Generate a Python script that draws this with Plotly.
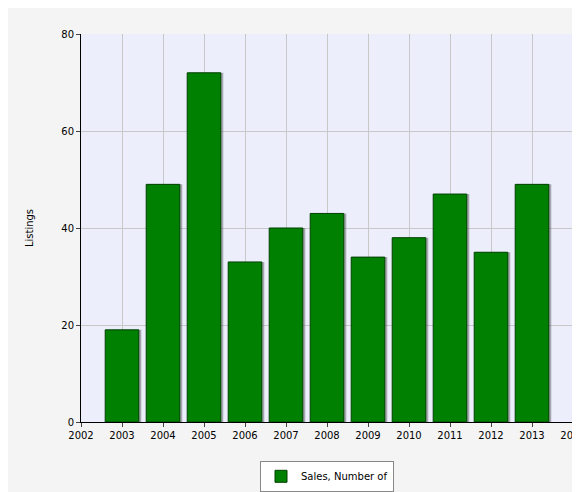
import plotly.graph_objects as go

years = [2003, 2004, 2005, 2006, 2007, 2008, 2009, 2010, 2011, 2012, 2013]
sales = [19, 49, 72, 33, 40, 43, 34, 38, 47, 35, 49]

fig = go.Figure()
# shadow bars
fig.add_trace(go.Bar(x=[y + 0.06 for y in years], y=sales, width=0.82,
                     marker=dict(color="rgba(80,80,80,0.45)", line=dict(width=0)),
                     showlegend=False, hoverinfo="skip"))
fig.add_trace(go.Bar(x=years, y=sales, width=0.82, name="Sales, Number of",
                     marker=dict(color="#008000", line=dict(color="#004000", width=1))))

fig.update_layout(
    width=580, height=492, barmode="overlay",
    paper_bgcolor="#f4f4f4", plot_bgcolor="#eceefc",
    margin=dict(l=73, r=15, t=26, b=78, autoexpand=False),
    font=dict(family="DejaVu Sans", size=10, color="black"),
    showlegend=True,
    legend=dict(orientation="h", x=0.5, xanchor="center", y=-0.1, yanchor="top",
                bgcolor="white", bordercolor="#888", borderwidth=1,
                font=dict(size=10)),
    xaxis=dict(range=[2002, 2014], dtick=1, ticks="outside", ticklen=4,
               showgrid=True, gridcolor="#c8c8c8", showline=True, linecolor="black",
               zeroline=False, automargin=False),
    yaxis=dict(range=[0, 80], dtick=20, ticks="outside", ticklen=4,
               showgrid=True, gridcolor="#c8c8c8", showline=True, linecolor="black",
               zeroline=False, automargin=False,
               title=dict(text="Listings", font=dict(size=10), standoff=25)),
)
fig.write_html("out.html")
